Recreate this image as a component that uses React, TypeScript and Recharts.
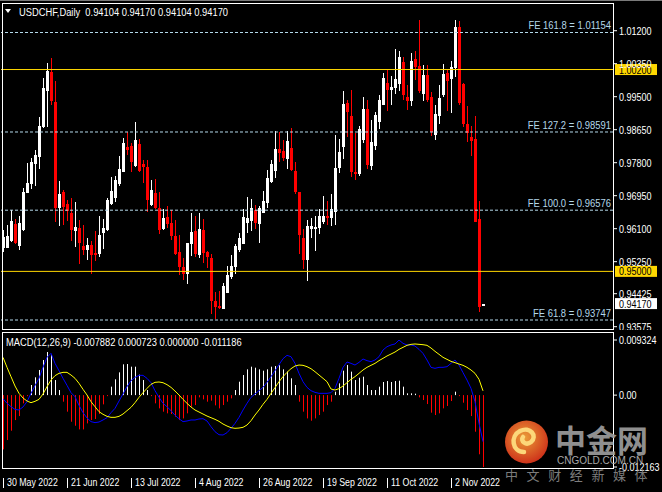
import React from 'react';
import { ComposedChart, Bar, Line, XAxis, YAxis, ReferenceLine } from 'recharts';

// USDCHF daily, 30 May 2022 .. 14 Nov 2022 (one entry per bar)
const opens = [
  0.95592, 0.95609, 0.95781, 0.96219, 0.95661, 0.96073, 0.97026, 0.97241, 0.97765, 0.97954,
  0.98727, 0.99655, 1.00144, 0.99363, 0.9664, 0.97044, 0.96734, 0.96502, 0.96047, 0.96116,
  0.95652, 0.95557, 0.95678, 0.9548, 0.95446, 0.95996, 0.96073, 0.96743, 0.96897, 0.9725,
  0.97567, 0.98203, 0.98229, 0.97722, 0.9828, 0.97765, 0.97688, 0.96717, 0.97018, 0.96631,
  0.9609, 0.96399, 0.96245, 0.9591, 0.95497, 0.95111, 0.94939, 0.95712, 0.96038, 0.95429,
  0.96065, 0.95498, 0.95344, 0.94236, 0.94115, 0.94038, 0.9445, 0.94863, 0.95112, 0.9555,
  0.95713, 0.96254, 0.96297, 0.96581, 0.96229, 0.96495, 0.96761, 0.97302, 0.97586, 0.98153,
  0.98101, 0.97895, 0.98178, 0.97586, 0.97045, 0.95859, 0.95292, 0.96091, 0.96091, 0.96125,
  0.96271, 0.96426, 0.96375, 0.96538, 0.97663, 0.98204, 0.99328, 0.99001, 0.9756, 0.975,
  0.98383, 0.99182, 0.9771, 0.98237, 0.98855, 0.99285, 0.9986, 0.99671, 0.99731, 0.99826,
  1.00401, 0.99499, 0.99388, 1.00479, 1.0029, 0.99568, 1.00058, 0.99499, 0.98512, 0.9901,
  0.99542, 1.00118, 0.99955, 1.0023, 1.01295, 0.99826, 0.98795, 0.9846, 0.98409, 0.96347,
  0.94104,
];
const highs = [
  0.96064, 0.96193, 0.9658, 0.96348, 0.96416, 0.97138, 0.97791, 0.97928, 0.98134, 0.98985,
  0.99973, 1.00376, 1.00505, 0.99904, 0.97327, 0.97095, 0.96837, 0.9688, 0.96786, 0.96322,
  0.96193, 0.95867, 0.95789, 0.96038, 0.96416, 0.96348, 0.9688, 0.97439, 0.97456, 0.97971,
  0.98426, 0.98581, 0.98298, 0.98847, 0.98409, 0.97877, 0.9786, 0.97353, 0.97379, 0.97044,
  0.96605, 0.96683, 0.9658, 0.96322, 0.95927, 0.95351, 0.95729, 0.96502, 0.96425, 0.96502,
  0.96349, 0.95533, 0.95438, 0.94468, 0.94485, 0.94691, 0.95146, 0.95421, 0.95705, 0.95997,
  0.96598, 0.96916, 0.96864, 0.9671, 0.96684, 0.9707, 0.97611, 0.97869, 0.98617, 0.98591,
  0.98385, 0.98617, 0.98694, 0.97818, 0.97045, 0.96091, 0.96323, 0.96375, 0.96426, 0.96606,
  0.96941, 0.96813, 0.96993, 0.98513, 0.9841, 0.99646, 0.99414, 0.99671, 0.98565, 0.98752,
  0.99482, 0.99414, 0.98898, 0.99113, 0.99543, 1.00118, 1.00187, 1.00032, 1.00728, 1.00676,
  1.0053, 0.998, 1.00633, 1.00676, 1.01475, 1.00315, 1.00315, 0.99628, 0.99285, 0.998,
  1.00341, 1.00187, 1.00419, 1.01475, 1.01449, 0.9986, 0.99259, 0.98744, 0.99001, 0.96811,
  0.9417,
];
const lows = [
  0.95506, 0.956, 0.95764, 0.95703, 0.95557, 0.96047, 0.97009, 0.97121, 0.97207, 0.97636,
  0.98684, 0.98727, 0.99294, 0.96279, 0.96176, 0.96193, 0.96305, 0.95789, 0.95635, 0.95197,
  0.9542, 0.953, 0.94939, 0.95274, 0.9536, 0.95575, 0.96047, 0.96708, 0.96794, 0.97207,
  0.97567, 0.97997, 0.9755, 0.97696, 0.97567, 0.97284, 0.9652, 0.96691, 0.96605, 0.95961,
  0.96073, 0.96107, 0.95807, 0.9542, 0.94905, 0.94776, 0.94673, 0.95403, 0.95368, 0.95351,
  0.95206, 0.95095, 0.93901, 0.93763, 0.94021, 0.94021, 0.9445, 0.94811, 0.9494, 0.95507,
  0.95713, 0.95997, 0.9604, 0.96091, 0.95739, 0.96495, 0.96632, 0.97268, 0.97405, 0.97818,
  0.97852, 0.97637, 0.97586, 0.96993, 0.95447, 0.9506, 0.94751, 0.95859, 0.95524, 0.95962,
  0.9622, 0.96194, 0.96168, 0.96194, 0.97534, 0.97895, 0.98469, 0.9744, 0.9735, 0.9745,
  0.98297, 0.9765, 0.976, 0.98125, 0.98666, 0.99285, 0.9913, 0.99285, 0.99568, 0.99645,
  0.99414, 0.99156, 0.99259, 0.99929, 0.99603, 0.99388, 0.99353, 0.98494, 0.98383, 0.98795,
  0.99499, 0.9913, 0.99087, 1.00015, 0.99285, 0.98726, 0.9834, 0.9797, 0.96278, 0.93959,
  0.94104,
];
const closes = [
  0.95892, 0.9591, 0.96305, 0.95738, 0.96245, 0.97044, 0.97275, 0.97825, 0.97997, 0.98744,
  0.99724, 1.0017, 0.99397, 0.9664, 0.96992, 0.96666, 0.96562, 0.96073, 0.96142, 0.95738,
  0.95557, 0.95678, 0.95429, 0.95429, 0.95935, 0.96116, 0.96846, 0.97069, 0.97353, 0.97636,
  0.98306, 0.98126, 0.97825, 0.98384, 0.97593, 0.97696, 0.96846, 0.97095, 0.96631, 0.96073,
  0.96373, 0.96227, 0.9591, 0.95446, 0.95119, 0.94939, 0.95729, 0.96013, 0.95446, 0.9609,
  0.95481, 0.95361, 0.94244, 0.94072, 0.94047, 0.94622, 0.94906, 0.95138, 0.95653, 0.95859,
  0.964, 0.96375, 0.96632, 0.96246, 0.96624, 0.96813, 0.97405, 0.97775, 0.98161, 0.9805,
  0.97929, 0.98359, 0.97611, 0.97045, 0.95936, 0.95292, 0.96168, 0.96168, 0.96143, 0.96426,
  0.96426, 0.96383, 0.96606, 0.97663, 0.98075, 0.99311, 0.99113, 0.9756, 0.97508, 0.98666,
  0.99182, 0.9774, 0.98323, 0.99027, 0.99414, 0.99989, 0.99671, 0.99757, 0.99955, 1.0053,
  0.99542, 0.99388, 1.00419, 1.00273, 0.99645, 1.00058, 0.99414, 0.9858, 0.99053, 0.99474,
  1.00084, 0.99912, 1.00273, 1.01295, 0.99345, 0.98795, 0.98555, 0.98357, 0.96278, 0.94088,
  0.9417,
];

// MACD(12,26,9) sub window
const macdMain = [
  -0.00061, -0.00139, -0.00196, -0.00241, -0.00252, -0.00201, -0.00111, 0.0003, 0.0016, 0.00284,
  0.0047, 0.00639, 0.00707, 0.00537, 0.00413, 0.00284, 0.00165, 0.00041, -0.00027, -0.00173,
  -0.00297, -0.00387, -0.00449, -0.00466, -0.00455, -0.00421, -0.00382, -0.00297, -0.00224, -0.001,
  0.00019, 0.00143, 0.00244, 0.00301, 0.00334, 0.00334, 0.00284, 0.0021, 0.00075, -0.00038,
  -0.00139, -0.00196, -0.00263, -0.00342, -0.00399, -0.00449, -0.00438, -0.00421, -0.00421, -0.00404,
  -0.00399, -0.00438, -0.00534, -0.00619, -0.0067, -0.00675, -0.00636, -0.00562, -0.00478, -0.00376,
  -0.00252, -0.00139, -0.00038, 0.00019, 0.00075, 0.00131, 0.00216, 0.00312, 0.00413, 0.00515,
  0.00616, 0.00673, 0.0065, 0.00537, 0.00368, 0.00227, 0.00131, 0.00075, 0.00047, 0.0003,
  0.0003, 0.0003, 0.00041, 0.00114, 0.00284, 0.0047, 0.0056, 0.00537, 0.00509, 0.00554,
  0.00611, 0.00583, 0.00566, 0.00594, 0.0065, 0.00763, 0.00819, 0.00848, 0.00865, 0.00932,
  0.00876, 0.00848, 0.00848, 0.00831, 0.00774, 0.00706, 0.00594, 0.0047, 0.00453, 0.0047,
  0.0047, 0.00481, 0.00537, 0.00594, 0.00509, 0.0038, 0.00255, 0.00114, -0.00111, -0.00478,
  -0.007882,
];
const macdSignal = [
  0.00639, 0.0047, 0.00312, 0.00154, 0.0003, -0.00049, -0.001, -0.00128, -0.00105, -0.00072,
  0.00019, 0.00143, 0.00255, 0.00329, 0.00368, 0.00385, 0.00385, 0.0034, 0.00284, 0.00199,
  0.00098, 0.00002, -0.00111, -0.00196, -0.0028, -0.00325, -0.00359, -0.00376, -0.00376, -0.00359,
  -0.0032, -0.00263, -0.00207, -0.00128, -0.00038, 0.00041, 0.00114, 0.00182, 0.00216, 0.00222,
  0.0021, 0.00177, 0.00131, 0.00069, 0.00002, -0.00072, -0.00139, -0.00201, -0.00252, -0.00286,
  -0.0032, -0.00354, -0.00382, -0.0041, -0.00444, -0.00489, -0.00523, -0.00551, -0.00562, -0.00557,
  -0.00545, -0.00506, -0.00433, -0.00337, -0.00252, -0.00156, -0.00072, 0.0003, 0.00126, 0.00227,
  0.00312, 0.00385, 0.00447, 0.00492, 0.00509, 0.00504, 0.00481, 0.00447, 0.00396, 0.0034,
  0.00284, 0.00227, 0.00103, 0.00086, 0.00109, 0.00154, 0.0021, 0.00267, 0.00312, 0.00368,
  0.00425, 0.0047, 0.00504, 0.00537, 0.00583, 0.00622, 0.00662, 0.00695, 0.00729, 0.00774,
  0.00808, 0.00842, 0.00859, 0.00865, 0.00859, 0.00853, 0.00842, 0.00797, 0.00741, 0.0069,
  0.00639, 0.00605, 0.00571, 0.00549, 0.00526, 0.00504, 0.0047, 0.00425, 0.00368, 0.00267,
  0.000723,
];
const macdHist = [
  -0.00918, -0.0076, -0.00602, -0.00422, -0.00354, -0.00139, -0.00015, 0.00171, 0.00301, 0.00425,
  0.00594, 0.00729, 0.00678, 0.00255, 0.00086, -0.00111, -0.0028, -0.0045, -0.00518, -0.0058,
  -0.0058, -0.00478, -0.00422, -0.00404, -0.0032, -0.00156, -0.00015, 0.00143, 0.00267, 0.00385,
  0.00521, 0.00526, 0.00481, 0.00481, 0.00346, 0.00255, 0.00086, -0.00002, -0.00139, -0.00224,
  -0.0028, -0.00308, -0.0032, -0.00365, -0.00422, -0.00394, -0.00308, -0.00196, -0.00168, -0.00038,
  -0.00072, -0.00111, -0.00094, -0.00173, -0.00224, -0.00168, -0.00111, -0.00055, 0.00086, 0.00227,
  0.0034, 0.00436, 0.00481, 0.00464, 0.00436, 0.00413, 0.00436, 0.00481, 0.00492, 0.00504,
  0.00436, 0.00397, 0.00284, 0.00171, -0.00111, -0.0028, -0.00394, -0.00433, -0.00394, -0.00337,
  -0.0028, -0.00168, -0.00111, 0.00058, 0.00199, 0.00413, 0.00509, 0.00397, 0.00255, 0.00294,
  0.00312, 0.00171, 0.00086, 0.00086, 0.00143, 0.00222, 0.00238, 0.00222, 0.00238, 0.00244,
  0.00143, 0.0003, 0.0003, 0.00024, -0.00038, -0.00083, -0.00151, -0.00297, -0.00337, -0.00308,
  -0.00224, -0.00184, -0.001, 0.00058, -0.00015, -0.00128, -0.00252, -0.00354, -0.00619, -0.01001,
  -0.012163,
];

const dateLabels = ['30 May 2022', '21 Jun 2022', '13 Jul 2022', '4 Aug 2022', '26 Aug 2022', '19 Sep 2022', '11 Oct 2022', '2 Nov 2022'];
const dateBars = [0, 16, 32, 48, 64, 80, 96, 112];
const priceTicks = [1.012, 1.0035, 0.995, 0.9865, 0.978, 0.9695, 0.961, 0.9525, 0.94425, 0.93575];
const macdTicks = [0.009324, 0, -0.012163];
const feNames = ['FE 161.8', 'FE 127.2', 'FE 100.0', 'FE 61.8'];
const feValues = [1.01154, 0.98591, 0.96576, 0.93747];
const levelLines = [1.002, 0.95];
const lastPrice = 0.9417;

const FONT = '"Liberation Sans", Arial, sans-serif';
const FE_COLOR = '#b4d8ea';
const GOLD = '#ffd700';

const rows = opens.map((o, i) => ({
  i,
  o,
  h: highs[i],
  l: lows[i],
  c: closes[i],
  range: [lows[i], highs[i]],
  macd: macdMain[i],
  signal: macdSignal[i],
  hist: macdHist[i],
}));

// MT4 draws a narrow face; squeeze the sans horizontally around the anchor point
const NText = ({ x, y, anchor = 'start', fill = '#ffffff', size = 11, sq = 0.85, children }: any) => (
  <text
    x={x}
    y={y}
    textAnchor={anchor}
    fill={fill}
    fontSize={size}
    fontFamily={FONT}
    transform={`translate(${x} 0) scale(${sq} 1) translate(${-x} 0)`}
  >
    {children}
  </text>
);

const Candle = (props: any) => {
  const { x, y, width, height, payload } = props;
  if (!payload || y == null) return null;
  const { o, h, l, c } = payload;
  const cx = Math.round(x + width / 2);
  const top = Math.min(y, y + height);
  const span = Math.abs(height);
  const k = h === l ? 0 : span / (h - l);
  const py = (v: number) => top + (h - v) * k;
  const color = c >= o ? '#ffffff' : '#ff0000';
  const wTop = Math.round(top);
  const wBot = Math.round(top + span);
  const bTop = Math.round(py(Math.max(o, c)));
  const bBot = Math.round(py(Math.min(o, c)));
  return (
    <g>
      <rect x={cx} y={wTop} width={1} height={Math.max(1, wBot - wTop)} fill={color} />
      <rect x={cx - 1} y={bTop} width={3} height={Math.max(1, bBot - bTop)} fill={color} />
    </g>
  );
};

const HistBar = (props: any) => {
  const { x, y, width, height, payload } = props;
  if (!payload || y == null) return null;
  const cx = Math.round(x + width / 2);
  const top = Math.min(y, y + height);
  const h = Math.abs(height);
  return <rect x={cx} y={top} width={1} height={Math.max(h, 1)} fill={payload.hist >= 0 ? '#ffffff' : '#ff0000'} />;
};

const feLabel = (text: string) => (props: any) => {
  const vb = props.viewBox || {};
  return (
    <NText x={vb.x + vb.width - 2} y={vb.y - 3} anchor="end" fill={FE_COLOR} sq={0.86}>
      {text}
    </NText>
  );
};

const boxLabel = (text: string, bg: string) => (props: any) => {
  const vb = props.viewBox || {};
  const x0 = vb.x + vb.width + 2;
  return (
    <g>
      <rect x={x0} y={vb.y - 5.5} width={42} height={11} fill={bg} />
      <NText x={x0 + 4} y={vb.y + 4} fill="#000000" sq={0.82}>
        {text}
      </NText>
    </g>
  );
};

const PriceTick = (props: any) => {
  const { x, y, payload } = props;
  return (
    <NText x={x} y={y + 4} sq={0.82}>
      {payload.value.toFixed(5)}
    </NText>
  );
};

const MacdTick = (props: any) => {
  const { x, y, payload } = props;
  const v = payload.value;
  return (
    <NText x={x} y={y + 4} sq={0.82}>
      {v === 0 ? '0.00' : String(v)}
    </NText>
  );
};

const DateTick = (props: any) => {
  const { x, y, payload } = props;
  const idx = dateBars.indexOf(payload.value);
  const px = Math.round(x) + 0.5;
  return (
    <g>
      <line x1={px} x2={px} y1={y + 11} y2={y + 21} stroke="#ffffff" />
      <NText x={px + 3.5} y={y + 19} sq={0.8}>
        {dateLabels[idx]}
      </NText>
    </g>
  );
};

const Overlay = () => (
  <svg width={662} height={492} style={{ position: 'absolute', left: 0, top: 0, pointerEvents: 'none' }}>
    <defs>
      <radialGradient id="lg" cx="45%" cy="40%" r="60%">
        <stop offset="0%" stopColor="#f7a53a" />
        <stop offset="100%" stopColor="#d9361c" />
      </radialGradient>
    </defs>
    {/* chart frame */}
    <line x1={0} x2={662} y1={0.5} y2={0.5} stroke="#7a7a7a" />
    <rect x={2.5} y={3.5} width={611} height={326} fill="none" stroke="#ffffff" />
    <rect x={2.5} y={332.5} width={611} height={136} fill="none" stroke="#ffffff" />
    {/* headers */}
    <polygon points="5,9 11,9 8,13" fill="#ffffff" />
    <NText x={19} y={16}>USDCHF,Daily{'\u00a0\u00a0'}0.94104 0.94170 0.94104 0.94170</NText>
    <NText x={6} y={346}>MACD(12,26,9) -0.007882 0.000723 0.000000 -0.011186</NText>
    {/* watermark */}
    <circle cx={526.5} cy={442} r={21.5} fill="url(#lg)" opacity={0.95} />
    <path d="M 524 452 C 512 452 510 436 520 431 C 530 426 538 436 531 442 C 526 446 520 441 523 437" fill="none" stroke="#fcd77a" strokeWidth={4.5} strokeLinecap="round" />
    <text x={555} y={452} fill="#9c9c9c" fontSize={31} fontWeight={700} fontFamily='"Noto Sans CJK SC", sans-serif' opacity={0.92}>
      中金网
    </text>
    <text x={557} y={464} fill="#a8a8a8" fontSize={10} fontFamily={FONT}>
      CNGOLD.COM.CN
    </text>
    <text x={505} y={480} fill="#8a8a8a" fontSize={13} letterSpacing={8.6} fontFamily='"Noto Sans CJK SC", sans-serif' opacity={0.9}>
      中文财经新媒体
    </text>
  </svg>
);

export default function App() {
  return (
    <div style={{ position: 'absolute', left: 0, top: 0, width: 662, height: 492, background: '#000', overflow: 'hidden' }}>
      <div style={{ position: 'absolute', left: 0, top: 0 }}>
        <ComposedChart width={662} height={330} data={rows} margin={{ top: 3, right: 0, bottom: 3, left: 1 }}>
          <XAxis type="number" dataKey="i" domain={[-0.5, 152.5]} allowDataOverflow hide />
          <YAxis
            orientation="right"
            width={49}
            domain={[0.93567, 1.01914]}
            allowDataOverflow
            ticks={priceTicks}
            interval={0}
            axisLine={false}
            tickLine={{ stroke: '#ffffff' }}
            tickSize={4}
            tickMargin={2}
            tick={(p: any) => <PriceTick {...p} />}
          />
          {feValues.map((v, k) => (
            <ReferenceLine key={feNames[k]} y={v} stroke={FE_COLOR} strokeDasharray="3 2" label={feLabel(`${feNames[k]} = ${v.toFixed(5)}`)} />
          ))}
          {levelLines.map((v) => (
            <ReferenceLine key={v} y={v} stroke={GOLD} label={boxLabel(v.toFixed(5), GOLD)} />
          ))}
          <Bar dataKey="range" shape={(p: any) => <Candle {...p} />} barSize={3} isAnimationActive={false} />
          <ReferenceLine y={lastPrice} stroke="none" label={boxLabel(lastPrice.toFixed(5), '#ffffff')} />
        </ComposedChart>
      </div>
      <div style={{ position: 'absolute', left: 0, top: 330 }}>
        <ComposedChart width={662} height={162} data={rows} margin={{ top: 10, right: 0, bottom: 0, left: 1 }}>
          <XAxis
            type="number"
            dataKey="i"
            domain={[-0.5, 152.5]}
            allowDataOverflow
            ticks={dateBars}
            interval={0}
            height={25}
            axisLine={false}
            tickLine={false}
            tickSize={0}
            tickMargin={0}
            tick={(p: any) => <DateTick {...p} />}
          />
          <YAxis
            orientation="right"
            width={49}
            domain={[-0.012163, 0.009324]}
            allowDataOverflow
            ticks={macdTicks}
            interval={0}
            axisLine={false}
            tickLine={{ stroke: '#ffffff' }}
            tickSize={4}
            tickMargin={2}
            tick={(p: any) => <MacdTick {...p} />}
          />
          <Bar dataKey="hist" shape={(p: any) => <HistBar {...p} />} barSize={1} isAnimationActive={false} />
          <Line dataKey="macd" stroke="#0000ff" strokeWidth={1} dot={false} isAnimationActive={false} />
          <Line dataKey="signal" stroke="#ffff00" strokeWidth={1} dot={false} isAnimationActive={false} />
        </ComposedChart>
      </div>
      <Overlay />
    </div>
  );
}
